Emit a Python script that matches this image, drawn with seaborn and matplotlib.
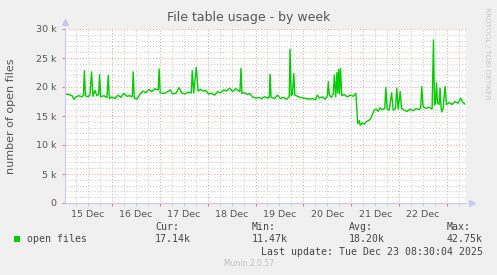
import numpy as np
import pandas as pd
import matplotlib
matplotlib.use("Agg")
import matplotlib.pyplot as plt
import matplotlib.ticker as mticker
import seaborn as sns

# ---- data (hours since 15 Dec 00:00, open files) ----
hours = [1, 2.5, 4, 5, 6, 7.5, 9, 9.75, 10.2, 10.75, 12, 13, 13.8, 14.5, 15.5, 16.5,
         17.4, 17.8, 18.4, 20, 21.5, 22.2, 22.7, 24, 25.5, 27, 28.5, 30, 31.5, 33,
         34.2, 34.7, 35.2, 36.5, 38, 39.5, 41, 42.5, 44, 45.5, 47.2, 47.7, 48.2, 49.5,
         51, 53.3, 54.5, 56, 57.7, 59, 60.5, 62, 63.8, 64.3, 65, 66.3, 67.2, 68.5,
         69.5, 71, 72.5, 74, 75.5, 77, 78.5, 80, 81.5, 83, 84.5, 86, 87.5, 88.2, 88.7,
         89.2, 90.5, 92, 93, 94.5, 96, 97.5, 99, 100.5, 102, 102.9, 103.3, 103.8,
         105.5, 107, 108.5, 110, 111.5, 112.9, 113.3, 113.9, 114.5, 115.2, 115.7, 117,
         118.5, 120, 121.5, 123, 124.5, 126, 127, 128, 129.5, 131, 132, 132.5, 133,
         134, 135, 135.5, 136.2, 136.8, 137.2, 137.7, 138.1, 138.6, 139.2, 140.5, 142,
         143.5, 145, 146.3, 147.2, 148, 148.5, 149.5, 150.5, 151.5, 152.5, 153.5,
         154.5, 155.5, 156.5, 157.5, 158.5, 159.5, 160.8, 161.3, 162, 163, 164.2, 165,
         166.2, 166.8, 167.5, 168.5, 169.2, 170.5, 172, 173.5, 175, 176.5, 178, 178.8,
         179.3, 180, 181.5, 183, 184.5, 185.2, 185.7, 186.2, 186.7, 187.2, 188, 188.5,
         189, 189.3, 190, 191, 191.7, 193, 194.5, 196, 197.5, 198.8, 199.5, 200.8]
open_files = [18.8, 18.7, 18.5, 17.9, 18.3, 18.5, 18.3, 18.6, 22.8, 18.5, 18.3, 18.6,
              22.6, 18.4, 19.4, 18.5, 18.7, 22.1, 18.3, 18.5, 18.2, 22.0, 18.0, 18.3,
              18.0, 18.6, 18.2, 18.9, 18.4, 18.5, 18.3, 22.6, 18.1, 17.9, 18.7, 19.3,
              19.0, 19.6, 19.2, 19.7, 19.5, 23.1, 19.0, 18.9, 19.0, 19.5, 18.8, 18.9,
              19.9, 19.0, 18.8, 19.1, 19.0, 22.8, 19.0, 23.4, 19.3, 19.6, 19.3, 19.4,
              18.8, 18.9, 18.6, 19.2, 19.0, 19.5, 19.3, 19.8, 19.2, 19.7, 19.4, 19.2,
              23.2, 18.9, 19.0, 18.7, 18.9, 18.3, 18.1, 18.2, 18.0, 18.3, 18.1, 18.2,
              22.2, 18.2, 18.0, 18.6, 18.0, 18.2, 17.9, 18.3, 26.5, 18.5, 18.8, 22.3,
              18.6, 18.4, 18.2, 18.1, 18.0, 17.9, 18.0, 17.8, 18.6, 18.1, 18.3, 17.9,
              18.5, 20.9, 18.6, 18.2, 18.8, 22.1, 18.3, 22.5, 19.0, 23.0, 18.8, 23.2,
              18.5, 18.7, 18.3, 18.6, 18.4, 18.9, 13.7, 14.2, 13.4, 13.8, 13.6, 14.0,
              14.2, 14.4, 15.2, 16.0, 16.2, 15.8, 16.4, 16.1, 16.3, 19.9, 16.2, 16.0,
              19.0, 16.0, 16.3, 19.8, 16.2, 19.2, 16.3, 16.0, 15.8, 16.2, 15.9, 16.3,
              16.1, 16.4, 20.1, 16.6, 16.3, 16.5, 16.2, 28.1, 16.9, 17.2, 20.7, 17.3,
              17.0, 19.8, 16.5, 15.7, 16.2, 20.1, 17.0, 17.3, 17.0, 17.5, 17.2, 18.1,
              17.5, 17.1]
day_labels = ["15 Dec", "16 Dec", "17 Dec", "18 Dec", "19 Dec", "20 Dec", "21 Dec", "22 Dec"]
legend_name = "open files"
stat_names = ["Cur:", "Min:", "Avg:", "Max:"]
stat_values = ["17.14k", "11.47k", "18.20k", "42.75k"]

df = pd.DataFrame({"hour": hours, "files": np.array(open_files) * 1000})

W, H = 497, 275
fig = plt.figure(figsize=(W / 100, H / 100), dpi=100, facecolor="#F0F0F0")
ax = fig.add_axes([65 / W, 1 - 203 / H, 401 / W, 174 / H])
ax.set_facecolor("white")

# grids
ax.set_xlim(0.5, 201.5)
ax.set_ylim(0, 30000)
ax.xaxis.set_major_locator(mticker.MultipleLocator(24))
minor_x = [h for h in range(6, 201, 6) if h % 24 != 0]
ax.xaxis.set_minor_locator(mticker.FixedLocator(minor_x))
ax.xaxis.set_major_formatter(mticker.NullFormatter())
ax.xaxis.set_minor_formatter(mticker.FuncFormatter(
    lambda v, p: day_labels[int(v // 24)] if (int(round(v)) % 24 == 12 and int(v // 24) < len(day_labels)) else ""))
ax.yaxis.set_major_locator(mticker.MultipleLocator(5000))
ax.yaxis.set_minor_locator(mticker.MultipleLocator(1000))
ax.yaxis.set_major_formatter(mticker.FuncFormatter(lambda v, p: "0" if v == 0 else f"{int(v/1000)} k"))

ax.grid(which="minor", color="#c8c8c8", linestyle=(0, (1, 2)), linewidth=0.7)
ax.grid(which="major", color="#e4a0a0", linestyle=(0, (1, 2)), linewidth=0.7)
ax.set_axisbelow(True)

sns.lineplot(data=df, x="hour", y="files", ax=ax, color="#00CC00", linewidth=1.0,
             estimator=None, legend=False)

ax.set_xlabel("")
ax.set_ylabel("number of open files", fontsize=8, color="#555555")
ax.yaxis.set_label_coords(-49 / 401, 0.5)
ax.tick_params(axis="both", which="both", length=2, colors="#555555", labelsize=6.8)
ax.tick_params(axis="x", which="major", colors="#e08080")
ax.tick_params(axis="x", which="minor", colors="#c0c0c0", labelcolor="#555555", pad=3)
ax.tick_params(axis="y", which="major", colors="#e08080", labelcolor="#555555", pad=4)
ax.tick_params(axis="y", which="minor", length=0)
for s in ["top", "right"]:
    ax.spines[s].set_visible(False)
for s in ["left", "bottom"]:
    ax.spines[s].set_color("#c8c8f0")
    ax.spines[s].set_linewidth(0.8)
ax.plot([0], [1.04], marker="^", color="#c8c8f0", markersize=4, transform=ax.transAxes, clip_on=False)
ax.plot([1.015], [0], marker=">", color="#c8c8f0", markersize=4, transform=ax.transAxes, clip_on=False)

fig.text(248.5 / W, 1 - 18 / H, "File table usage - by week", ha="center", va="center",
         fontsize=9, color="#555555")
fig.text(487 / W, 1 - 53 / H, "RRDTOOL / TOBI OETIKER", rotation=-90, ha="center", va="center",
         fontsize=5.2, color="#c8c8c8")

mono = "DejaVu Sans Mono"
fig.patches.append(plt.Rectangle((14 / W, 1 - 242 / H), 6 / W, 6 / H, transform=fig.transFigure,
                                 facecolor="#00CC00", edgecolor="none"))
fig.text(27 / W, 1 - 239 / H, legend_name, ha="left", va="center", fontsize=7.1, family=mono, color="#444444")
xs = [155, 252, 349, 447]
for x, n, v in zip(xs, stat_names, stat_values):
    fig.text(x / W, 1 - 227 / H, n, ha="left", va="center", fontsize=7.1, family=mono, color="#444444")
    fig.text(x / W, 1 - 239 / H, v, ha="left", va="center", fontsize=7.1, family=mono, color="#444444")
fig.text(483 / W, 1 - 252 / H, "Last update: Tue Dec 23 08:30:04 2025", ha="right", va="center",
         fontsize=7.1, family=mono, color="#444444")
fig.text(248.5 / W, 1 - 264 / H, "Munin 2.0.57", ha="center", va="center", fontsize=5.5, color="#c0c0c0")

fig.savefig("out.png", dpi=100, facecolor="#F0F0F0")
